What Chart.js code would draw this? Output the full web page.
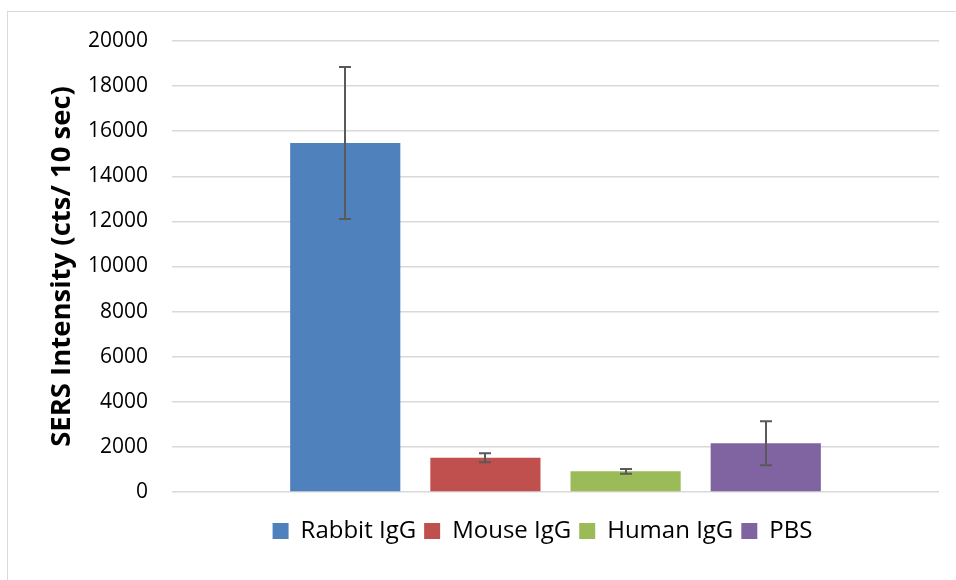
<!DOCTYPE html>
<html>
<head>
<meta charset="utf-8">
<script src="https://cdn.jsdelivr.net/npm/chart.js@4.4.1/dist/chart.umd.min.js"></script>
<style>
  body { margin: 0; background: #fff; }
  #wrap { position: relative; width: 956px; height: 580px; overflow: hidden; }
  #frame { position: absolute; left: 7px; top: 11px; width: 970px; height: 600px;
           border-left: 1px solid #d9d9d9; border-top: 1px solid #d9d9d9; }
  canvas { position: absolute; left: 0; top: 0; }
</style>
</head>
<body>
<div id="wrap">
  <div id="frame"></div>
  <canvas id="chart" width="956" height="580"></canvas>
</div>
<script>
// valeurs
var seriesNames = ['Rabbit IgG', 'Mouse IgG', 'Human IgG', 'PBS'];
var meanValues = [15480, 1520, 915, 2160];
var errorValues = [3370, 200, 110, 975];
var yTicks = [0, 2000, 4000, 6000, 8000, 10000, 12000, 14000, 16000, 18000, 20000];

var barColors = ['#4f81bd', '#c0504d', '#9bbb59', '#8064a2'];

// barres d'erreur dessinées après les barres
var errorBarPlugin = {
    id: 'errorBars',
    afterDatasetsDraw: function(chart) {
        var ctx = chart.ctx;
        var yScale = chart.scales.y;
        ctx.save();
        ctx.strokeStyle = '#595959';
        ctx.lineWidth = 2;
        chart.data.datasets.forEach(function(ds, i) {
            var bar = chart.getDatasetMeta(i).data[0];
            var x = Math.round(bar.x);
            var yTop = yScale.getPixelForValue(meanValues[i] + errorValues[i]);
            var yBot = yScale.getPixelForValue(meanValues[i] - errorValues[i]);
            ctx.beginPath();
            ctx.moveTo(x, yTop);
            ctx.lineTo(x, yBot);
            ctx.moveTo(x - 6, yTop);
            ctx.lineTo(x + 6, yTop);
            ctx.moveTo(x - 6, yBot);
            ctx.lineTo(x + 6, yBot);
            ctx.stroke();
        });
        ctx.restore();
    }
};

// la légende est centrée un peu à droite, comme dans Excel
var legendShift = {
    id: 'legendShift',
    afterLayout: function(chart) {
        if (chart.legend) chart.legend.left = 146;
    }
};

var ctx = document.getElementById('chart').getContext('2d');
var chart = new Chart(ctx, {
    type: 'bar',
    data: {
        labels: [''],
        datasets: seriesNames.map(function(name, i) {
            return {
                label: name,
                data: [meanValues[i]],
                backgroundColor: barColors[i],
                borderWidth: 0,
                categoryPercentage: 0.731,
                barPercentage: 0.786
            };
        })
    },
    options: {
        responsive: false,
        animation: false,
        layout: { padding: { left: 46, right: 17, top: 41, bottom: 27 } },
        plugins: {
            tooltip: { enabled: false },
            legend: {
                position: 'bottom',
                labels: {
                    boxWidth: 16,
                    boxHeight: 16,
                    padding: 8,
                    color: '#000',
                    font: { family: 'Open Sans', size: 24 }
                }
            }
        },
        scales: {
            x: {
                grid: { display: false },
                border: { display: false },
                ticks: { display: false },
                afterFit: function(scale) { scale.height = 19; }
            },
            y: {
                min: 0,
                max: 20000,
                afterBuildTicks: function(scale) {
                    scale.ticks = yTicks.map(function(v) { return { value: v }; });
                },
                afterFit: function(scale) { scale.width = 126; },
                grid: { color: '#d9d9d9', lineWidth: 1.5, drawTicks: false },
                border: { display: false },
                ticks: {
                    color: '#000',
                    padding: 24,
                    font: { family: 'Open Sans', size: 21 },
                    callback: function(value) { return String(value); }
                },
                title: {
                    display: true,
                    text: 'SERS Intensity (cts/ 10 sec)',
                    color: '#000',
                    padding: 0,
                    font: { family: 'Open Sans', size: 27.5, weight: 'bold' }
                }
            }
        }
    },
    plugins: [errorBarPlugin, legendShift]
});
</script>
</body>
</html>
